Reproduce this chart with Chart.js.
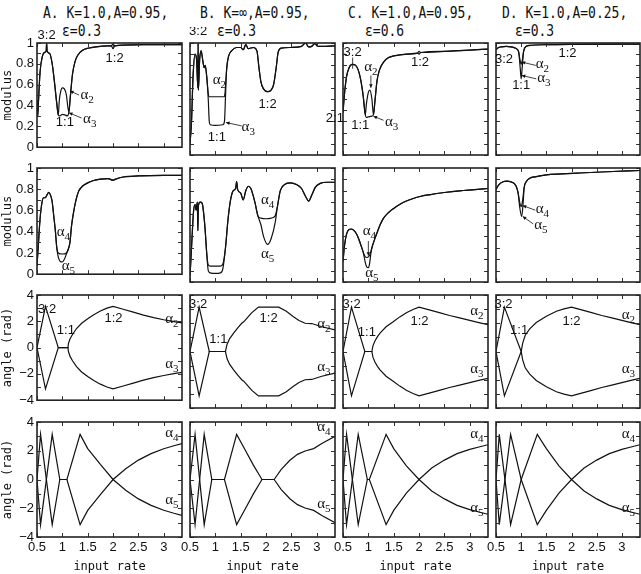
<!DOCTYPE html>
<html>
<head>
<meta charset="utf-8">
<script src="https://cdn.jsdelivr.net/npm/chart.js@4"></script>
<style>
  body { margin: 0; background: #fff; width: 641px; height: 574px; overflow: hidden; position: relative; }
  canvas { position: absolute; }
  .ttl { position: absolute; font: 13px 'DejaVu Sans Mono', monospace; line-height: 13px; white-space: pre;
         color: #111; transform-origin: left center; transform: scaleY(1.25); }
</style>
</head>
<body>
<div class="ttl" style="left:43px;top:6px">A. K=1.0,A=0.95,</div>
<div class="ttl" style="left:62px;top:24px">ε=0.3</div>
<div class="ttl" style="left:200px;top:6px">B. K=∞,A=0.95,</div>
<div class="ttl" style="left:217px;top:24px">ε=0.3</div>
<div class="ttl" style="left:348px;top:6px">C. K=1.0,A=0.95,</div>
<div class="ttl" style="left:365px;top:24px">ε=0.6</div>
<div class="ttl" style="left:502px;top:6px">D. K=1.0,A=0.25,</div>
<div class="ttl" style="left:515px;top:24px">ε=0.3</div>
<script>
// ---- ticks ----
const xTicks = [0.5, 1, 1.5, 2, 2.5, 3];
const modTicks = [0, 0.1, 0.2, 0.3, 0.4, 0.5, 0.6, 0.7, 0.8, 0.9, 1];
const angTicks = [-4, -3, -2, -1, 0, 1, 2, 3, 4];

// ---- row 1: modulus of alpha2 / alpha3 ----
const r1A_a2 = [[0.5,0.45],[0.515,0.3],[0.53,0.45],[0.56,0.72],[0.6,0.86],[0.65,0.91],[0.68,0.92],[0.69,1.0],[0.7,0.92],[0.75,0.9],[0.8,0.8],[0.85,0.6],[0.89,0.42],[0.92,0.31],[0.94,0.45],[0.97,0.54],[1.0,0.57],[1.04,0.56],[1.08,0.5],[1.11,0.38],[1.13,0.34],[1.16,0.5],[1.2,0.7],[1.25,0.82],[1.3,0.88],[1.4,0.93],[1.5,0.95],[1.7,0.965],[1.9,0.972],[1.97,0.975],[2.0,0.99],[2.03,0.975],[2.2,0.98],[2.6,0.985],[3.36,0.985]];
const r1A_a3 = [[0.5,0.45],[0.515,0.3],[0.53,0.45],[0.56,0.72],[0.6,0.86],[0.65,0.91],[0.68,0.92],[0.69,1.0],[0.7,0.92],[0.75,0.9],[0.8,0.8],[0.85,0.6],[0.89,0.42],[0.92,0.31],[0.95,0.3],[1.0,0.315],[1.05,0.31],[1.1,0.3],[1.13,0.34],[1.16,0.5],[1.2,0.7],[1.25,0.82],[1.3,0.88],[1.4,0.93],[1.5,0.95],[1.7,0.965],[1.9,0.972],[1.97,0.97],[2.0,0.945],[2.03,0.97],[2.2,0.98],[2.6,0.985],[3.36,0.985]];

const r1B_a2 = [[0.5,0.1],[0.53,0.3],[0.56,0.7],[0.6,0.9],[0.63,0.85],[0.655,0.6],[0.66,1.0],[0.665,0.58],[0.69,0.85],[0.72,0.93],[0.75,0.85],[0.78,0.78],[0.8,0.8],[0.83,0.7],[0.86,0.55],[0.88,0.52],[1.0,0.52],[1.17,0.52],[1.19,0.55],[1.22,0.75],[1.26,0.88],[1.32,0.93],[1.42,0.96],[1.5,0.96],[1.55,0.94],[1.6,0.985],[1.65,0.95],[1.75,0.96],[1.82,0.93],[1.86,0.78],[1.9,0.65],[1.95,0.59],[2.03,0.565],[2.1,0.58],[2.15,0.63],[2.2,0.78],[2.24,0.92],[2.3,0.955],[2.5,0.96],[2.7,0.97],[2.78,1.0],[2.84,0.965],[2.9,0.97],[2.96,0.995],[3.02,0.97],[3.36,0.975]];
const r1B_a3 = [[0.5,0.1],[0.53,0.3],[0.56,0.7],[0.6,0.9],[0.63,0.85],[0.655,0.6],[0.66,1.0],[0.665,0.58],[0.69,0.85],[0.72,0.93],[0.75,0.85],[0.78,0.78],[0.8,0.8],[0.83,0.7],[0.86,0.5],[0.88,0.3],[0.9,0.27],[1.0,0.265],[1.15,0.27],[1.18,0.3],[1.2,0.52],[1.22,0.75],[1.26,0.88],[1.32,0.93],[1.42,0.96],[1.5,0.96],[1.55,0.94],[1.6,0.985],[1.65,0.95],[1.75,0.96],[1.82,0.93],[1.86,0.78],[1.9,0.65],[1.95,0.59],[2.03,0.565],[2.1,0.58],[2.15,0.63],[2.2,0.78],[2.24,0.92],[2.3,0.955],[2.5,0.96],[2.7,0.97],[2.78,1.0],[2.84,0.965],[2.9,0.97],[2.96,0.995],[3.02,0.97],[3.36,0.975]];

const r1C_a2 = [[0.5,0.38],[0.53,0.55],[0.57,0.7],[0.62,0.78],[0.68,0.81],[0.75,0.8],[0.8,0.76],[0.85,0.67],[0.9,0.52],[0.94,0.36],[0.96,0.45],[1.0,0.56],[1.03,0.58],[1.07,0.5],[1.1,0.36],[1.13,0.48],[1.17,0.66],[1.22,0.76],[1.3,0.83],[1.4,0.87],[1.5,0.885],[1.75,0.9],[1.97,0.91],[2.0,0.925],[2.03,0.915],[2.5,0.925],[3.0,0.937],[3.36,0.945]];
const r1C_a3 = [[0.5,0.38],[0.53,0.55],[0.57,0.7],[0.62,0.78],[0.68,0.81],[0.75,0.8],[0.8,0.76],[0.85,0.67],[0.9,0.52],[0.94,0.36],[0.96,0.335],[1.0,0.34],[1.05,0.345],[1.1,0.36],[1.13,0.48],[1.17,0.66],[1.22,0.76],[1.3,0.83],[1.4,0.87],[1.5,0.885],[1.75,0.9],[1.97,0.91],[2.0,0.9],[2.03,0.915],[2.5,0.925],[3.0,0.937],[3.36,0.945]];

const r1D_a2 = [[0.5,0.94],[0.55,0.96],[0.6,0.965],[0.7,0.97],[0.8,0.965],[0.9,0.95],[0.95,0.92],[0.98,0.84],[1.0,0.81],[1.02,0.84],[1.05,0.93],[1.1,0.97],[1.2,0.98],[1.5,0.985],[2.0,0.988],[3.36,0.99]];
const r1D_a3 = [[0.5,0.94],[0.55,0.96],[0.6,0.965],[0.7,0.97],[0.8,0.965],[0.9,0.95],[0.95,0.92],[0.98,0.78],[1.0,0.68],[1.02,0.78],[1.05,0.93],[1.1,0.97],[1.2,0.98],[1.5,0.985],[2.0,0.988],[3.36,0.99]];

// ---- row 2: modulus of alpha4 / alpha5 ----
const r2A_a4 = [[0.5,0.08],[0.53,0.3],[0.56,0.52],[0.6,0.68],[0.63,0.72],[0.66,0.72],[0.7,0.75],[0.73,0.77],[0.77,0.74],[0.8,0.68],[0.83,0.55],[0.86,0.42],[0.89,0.25],[0.92,0.2],[1.0,0.19],[1.08,0.2],[1.12,0.24],[1.15,0.3],[1.18,0.45],[1.22,0.58],[1.27,0.7],[1.32,0.78],[1.4,0.83],[1.5,0.86],[1.6,0.88],[1.75,0.895],[1.9,0.9],[2.0,0.885],[2.05,0.895],[2.2,0.915],[2.5,0.925],[3.0,0.93],[3.36,0.93]];
const r2A_a5 = [[0.5,0.08],[0.53,0.3],[0.56,0.52],[0.6,0.68],[0.63,0.72],[0.66,0.72],[0.7,0.75],[0.73,0.77],[0.77,0.74],[0.8,0.68],[0.83,0.55],[0.86,0.42],[0.89,0.25],[0.92,0.16],[0.96,0.12],[1.0,0.115],[1.04,0.14],[1.08,0.19],[1.12,0.24],[1.15,0.3],[1.18,0.45],[1.22,0.58],[1.27,0.7],[1.32,0.78],[1.4,0.83],[1.5,0.86],[1.6,0.88],[1.75,0.895],[1.9,0.9],[2.0,0.885],[2.05,0.895],[2.2,0.915],[2.5,0.925],[3.0,0.93],[3.36,0.93]];

const r2B_a4 = [[0.5,0.05],[0.53,0.3],[0.57,0.62],[0.6,0.68],[0.62,0.63],[0.645,0.7],[0.655,0.45],[0.665,0.67],[0.7,0.7],[0.74,0.69],[0.77,0.6],[0.8,0.45],[0.83,0.25],[0.86,0.15],[0.9,0.14],[1.0,0.14],[1.1,0.14],[1.15,0.16],[1.2,0.3],[1.25,0.55],[1.3,0.72],[1.35,0.8],[1.4,0.82],[1.42,0.88],[1.44,0.81],[1.5,0.78],[1.55,0.72],[1.6,0.8],[1.65,0.84],[1.7,0.82],[1.78,0.7],[1.84,0.58],[1.9,0.56],[2.0,0.555],[2.1,0.56],[2.18,0.58],[2.22,0.65],[2.28,0.8],[2.35,0.85],[2.48,0.87],[2.6,0.855],[2.7,0.82],[2.78,0.75],[2.84,0.71],[2.9,0.76],[2.97,0.83],[3.07,0.865],[3.2,0.875],[3.36,0.875]];
const r2B_a5 = [[0.5,0.05],[0.53,0.3],[0.57,0.62],[0.6,0.68],[0.62,0.63],[0.645,0.7],[0.655,0.45],[0.665,0.67],[0.7,0.7],[0.74,0.69],[0.77,0.6],[0.8,0.45],[0.83,0.25],[0.86,0.1],[0.9,0.08],[1.0,0.075],[1.1,0.08],[1.15,0.12],[1.2,0.3],[1.25,0.55],[1.3,0.72],[1.35,0.8],[1.4,0.82],[1.42,0.88],[1.44,0.81],[1.5,0.78],[1.55,0.72],[1.6,0.8],[1.65,0.84],[1.7,0.82],[1.78,0.7],[1.84,0.58],[1.9,0.5],[1.95,0.4],[2.03,0.33],[2.1,0.38],[2.18,0.52],[2.22,0.65],[2.28,0.8],[2.35,0.85],[2.48,0.87],[2.6,0.855],[2.7,0.82],[2.78,0.75],[2.84,0.71],[2.9,0.76],[2.97,0.83],[3.07,0.865],[3.2,0.875],[3.36,0.875]];

const r2C_a4 = [[0.5,0.18],[0.53,0.32],[0.57,0.42],[0.62,0.46],[0.67,0.465],[0.72,0.45],[0.78,0.41],[0.84,0.34],[0.9,0.26],[0.94,0.22],[0.97,0.215],[1.0,0.22],[1.03,0.24],[1.07,0.3],[1.12,0.37],[1.17,0.43],[1.23,0.5],[1.3,0.56],[1.4,0.61],[1.5,0.645],[1.6,0.675],[1.75,0.71],[1.9,0.735],[2.02,0.75],[2.2,0.765],[2.5,0.785],[2.8,0.8],[3.1,0.81],[3.36,0.82]];
const r2C_a5 = [[0.5,0.18],[0.53,0.32],[0.57,0.42],[0.62,0.46],[0.67,0.465],[0.72,0.45],[0.78,0.41],[0.84,0.34],[0.9,0.26],[0.94,0.17],[0.97,0.13],[1.0,0.125],[1.02,0.15],[1.05,0.25],[1.07,0.3],[1.12,0.37],[1.17,0.43],[1.23,0.5],[1.3,0.56],[1.4,0.61],[1.5,0.645],[1.6,0.675],[1.75,0.71],[1.9,0.735],[2.02,0.75],[2.2,0.765],[2.5,0.785],[2.8,0.8],[3.1,0.81],[3.36,0.82]];

const r2D_a4 = [[0.5,0.81],[0.55,0.85],[0.64,0.88],[0.72,0.885],[0.84,0.87],[0.9,0.84],[0.94,0.78],[0.97,0.7],[1.0,0.66],[1.03,0.72],[1.06,0.83],[1.1,0.88],[1.17,0.91],[1.3,0.925],[1.5,0.94],[1.8,0.948],[2.16,0.956],[2.7,0.967],[3.36,0.978]];
const r2D_a5 = [[0.5,0.81],[0.55,0.85],[0.64,0.88],[0.72,0.885],[0.84,0.87],[0.9,0.84],[0.94,0.78],[0.97,0.66],[1.01,0.575],[1.04,0.7],[1.06,0.83],[1.1,0.88],[1.17,0.91],[1.3,0.925],[1.5,0.94],[1.8,0.948],[2.16,0.956],[2.7,0.967],[3.36,0.978]];

// ---- row 3: angle of alpha2 / alpha3 ----
const r3A_a2 = [[0.5,0],[0.667,3.14],[0.92,0],[1.11,0],[1.12,0.3],[1.15,0.65],[1.2,1.0],[1.28,1.45],[1.38,1.85],[1.5,2.2],[1.62,2.5],[1.75,2.78],[1.88,3.0],[2.0,3.14],[2.2,2.92],[2.4,2.7],[2.6,2.47],[2.8,2.28],[3.0,2.12],[3.2,1.98],[3.36,1.88]];
const r3A_a3 = [[0.5,0],[0.667,-3.14],[0.92,0],[1.11,0],[1.12,-0.3],[1.15,-0.65],[1.2,-1.0],[1.28,-1.45],[1.38,-1.85],[1.5,-2.2],[1.62,-2.5],[1.75,-2.78],[1.88,-3.0],[2.0,-3.14],[2.2,-2.92],[2.4,-2.7],[2.6,-2.47],[2.8,-2.28],[3.0,-2.12],[3.2,-1.98],[3.36,-1.88]];

const r3B_a2 = [[0.5,0],[0.68,3.14],[0.88,0],[1.2,0],[1.23,0.5],[1.28,0.9],[1.36,1.3],[1.45,1.7],[1.52,2.0],[1.56,2.1],[1.62,2.35],[1.72,2.75],[1.85,3.14],[2.25,3.14],[2.4,2.85],[2.54,2.46],[2.65,2.2],[2.77,2.0],[2.9,1.98],[3.1,1.75],[3.36,1.53]];
const r3B_a3 = [[0.5,0],[0.68,-3.14],[0.88,0],[1.2,0],[1.23,-0.5],[1.28,-0.9],[1.36,-1.3],[1.45,-1.7],[1.52,-2.0],[1.56,-2.1],[1.62,-2.35],[1.72,-2.75],[1.85,-3.14],[2.25,-3.14],[2.4,-2.85],[2.54,-2.46],[2.65,-2.2],[2.77,-2.0],[2.9,-1.98],[3.1,-1.75],[3.36,-1.53]];

const r3C_a2 = [[0.5,0],[0.667,3.14],[0.93,0],[1.07,0],[1.09,0.4],[1.13,0.75],[1.18,1.05],[1.23,1.3],[1.35,1.75],[1.49,2.1],[1.62,2.45],[1.75,2.75],[1.88,2.97],[2.0,3.14],[2.2,2.95],[2.4,2.75],[2.6,2.55],[2.8,2.38],[3.0,2.2],[3.2,2.03],[3.36,1.9]];
const r3C_a3 = [[0.5,0],[0.667,-3.14],[0.93,0],[1.07,0],[1.09,-0.4],[1.13,-0.75],[1.18,-1.05],[1.23,-1.3],[1.35,-1.75],[1.49,-2.1],[1.62,-2.45],[1.75,-2.75],[1.88,-2.97],[2.0,-3.14],[2.2,-2.95],[2.4,-2.75],[2.6,-2.55],[2.8,-2.38],[3.0,-2.2],[3.2,-2.03],[3.36,-1.9]];

const r3D_a2 = [[0.5,0],[0.667,3.14],[1.0,0],[1.03,0.6],[1.08,1.15],[1.17,1.6],[1.3,2.05],[1.5,2.5],[1.7,2.85],[1.85,3.02],[2.0,3.14],[2.2,2.95],[2.4,2.75],[2.6,2.55],[2.8,2.38],[3.0,2.2],[3.2,2.03],[3.36,1.9]];
const r3D_a3 = [[0.5,0],[0.667,-3.14],[1.0,0],[1.03,-0.6],[1.08,-1.15],[1.17,-1.6],[1.3,-2.05],[1.5,-2.5],[1.7,-2.85],[1.85,-3.02],[2.0,-3.14],[2.2,-2.95],[2.4,-2.75],[2.6,-2.55],[2.8,-2.38],[3.0,-2.2],[3.2,-2.03],[3.36,-1.9]];

// ---- row 4: angle of alpha4 / alpha5 ----
const r4A_a4 = [[0.5,0],[0.57,3.14],[0.8,-3.14],[0.95,0],[1.09,0],[1.35,-3.14],[1.5,-2.15],[1.75,-1.05],[2.0,0],[2.25,0.75],[2.5,1.35],[2.75,1.8],[3.0,2.14],[3.2,2.35],[3.36,2.5]];
const r4A_a5 = [[0.5,0],[0.57,-3.14],[0.8,3.14],[0.95,0],[1.09,0],[1.35,3.14],[1.5,2.15],[1.75,1.05],[2.0,0],[2.25,-0.75],[2.5,-1.35],[2.75,-1.8],[3.0,-2.14],[3.2,-2.35],[3.36,-2.5]];

const r4B_a4 = [[0.5,0],[0.6,3.14],[0.78,-3.14],[0.93,0],[1.18,0],[1.42,-3.14],[1.57,-2.17],[1.75,-1.0],[1.92,0],[2.16,0],[2.3,0.7],[2.47,1.34],[2.62,1.75],[2.77,1.98],[2.94,2.15],[3.1,2.5],[3.36,3.0]];
const r4B_a5 = [[0.5,0],[0.6,-3.14],[0.78,3.14],[0.93,0],[1.18,0],[1.42,3.14],[1.57,2.17],[1.75,1.0],[1.92,0],[2.16,0],[2.3,-0.7],[2.47,-1.34],[2.62,-1.75],[2.77,-1.98],[2.94,-2.15],[3.1,-2.5],[3.36,-3.0]];

const r4C_a4 = [[0.5,0],[0.57,3.14],[0.8,-3.14],[0.98,0],[1.02,0],[1.35,-3.14],[1.5,-2.15],[1.75,-0.95],[2.0,0],[2.25,0.8],[2.5,1.35],[2.75,1.8],[3.0,2.1],[3.2,2.28],[3.36,2.42]];
const r4C_a5 = [[0.5,0],[0.57,-3.14],[0.8,3.14],[0.98,0],[1.02,0],[1.35,3.14],[1.5,2.15],[1.75,0.95],[2.0,0],[2.25,-0.8],[2.5,-1.35],[2.75,-1.8],[3.0,-2.1],[3.2,-2.28],[3.36,-2.42]];

const r4D_a4 = [[0.5,0],[0.565,-3.14],[0.79,3.14],[1.0,0],[1.32,-3.14],[1.5,-2.15],[1.75,-0.95],[2.0,0],[2.25,0.8],[2.5,1.35],[2.75,1.8],[3.0,2.1],[3.2,2.28],[3.36,2.42]];
const r4D_a5 = [[0.5,0],[0.565,3.14],[0.79,-3.14],[1.0,0],[1.32,3.14],[1.5,2.15],[1.75,0.95],[2.0,0],[2.25,-0.8],[2.5,-1.35],[2.75,-1.8],[3.0,-2.1],[3.2,-2.28],[3.36,-2.42]];

// ---- layout ----
const colLeft = [37, 190, 343, 496];
const colW = [145, 145, 145, 144];
const rowTop = [43, 168, 295, 422];
const rowH = [112, 114, 113, 115];

// panels: series + text notes [text, x, y] + arrows [x1, y1, x2, y2, head]
const panels = [
  {r:0, c:0, s:[r1A_a2, r1A_a3],
   notes:[['3:2',0.69,1.07],['1:2',2.03,0.85],['1:1',1.05,0.24],['α2',1.49,0.48],['α3',1.54,0.25]],
   arrows:[[1.33,0.5,1.15,0.54,1],[1.38,0.28,1.13,0.33,1]]},
  {r:0, c:1, s:[r1B_a2, r1B_a3],
   notes:[['3:2',0.66,1.1],['α2',1.08,0.65],['1:2',2.03,0.45],['1:1',1.03,0.16],['α3',1.65,0.23]],
   arrows:[[1.52,0.26,1.21,0.29,1]]},
  {r:0, c:2, s:[r1C_a2, r1C_a3],
   notes:[['3:2',0.69,0.92],['α2',1.05,0.77],['1:2',2.02,0.83],['2:1',0.34,0.33],['1:1',0.84,0.26],['α3',1.46,0.28]],
   arrows:[[0.69,0.87,0.69,0.77,0],[1.05,0.71,1.05,0.6,1],[1.3,0.31,1.1,0.345,1]]},
  {r:0, c:3, s:[r1D_a2, r1D_a3],
   notes:[['3:2',0.66,0.85],['1:2',1.92,0.91],['α2',1.42,0.79],['α3',1.45,0.67],['1:1',1.0,0.62]],
   arrows:[[1.29,0.8,1.01,0.83,1],[1.3,0.68,1.01,0.71,1]]},

  {r:1, c:0, s:[r2A_a4, r2A_a5], notes:[['α4',1.02,0.38],['α5',1.12,0.06]], arrows:[]},
  {r:1, c:1, s:[r2B_a4, r2B_a5], notes:[['α4',2.03,0.7],['α5',2.03,0.23]], arrows:[]},
  {r:1, c:2, s:[r2C_a4, r2C_a5], notes:[['α4',1.02,0.43],['α5',1.07,0.06]], arrows:[[1.0,0.36,1.0,0.23,1]]},
  {r:1, c:3, s:[r2D_a4, r2D_a5], notes:[['α4',1.42,0.62],['α5',1.39,0.48]],
   arrows:[[1.28,0.63,1.03,0.67,1],[1.24,0.51,1.03,0.575,1]]},

  {r:2, c:0, s:[r3A_a2, r3A_a3], notes:[['3:2',0.7,2.89],['1:1',1.07,1.29],['1:2',2.01,2.23],['α2',3.16,2.0],['α3',3.16,-1.42]], arrows:[]},
  {r:2, c:1, s:[r3B_a2, r3B_a3], notes:[['3:2',0.66,3.3],['1:1',1.06,0.82],['1:2',2.05,2.35],['α2',3.14,1.81],['α3',3.14,-1.25]], arrows:[]},
  {r:2, c:2, s:[r3C_a2, r3C_a3], notes:[['3:2',0.67,3.3],['1:1',0.97,1.34],['1:2',2.01,2.11],['α2',3.14,2.7],['α3',3.14,-1.42]], arrows:[]},
  {r:2, c:3, s:[r3D_a2, r3D_a3], notes:[['3:2',0.65,3.3],['1:1',0.96,1.52],['1:2',2.0,2.11],['α2',3.13,2.46],['α3',3.13,-1.42]], arrows:[]},

  {r:3, c:0, s:[r4A_a4, r4A_a5], notes:[['α4',3.16,3.07],['α5',3.16,-1.56]], arrows:[]},
  {r:3, c:1, s:[r4B_a4, r4B_a5], notes:[['α4',3.14,3.54],['α5',3.14,-1.86]], arrows:[]},
  {r:3, c:2, s:[r4C_a4, r4C_a5], notes:[['α4',3.14,3.0],['α5',3.14,-2.14]], arrows:[]},
  {r:3, c:3, s:[r4D_a4, r4D_a5], notes:[['α4',3.13,3.0],['α5',3.13,-2.14]], arrows:[]}
];

const ink = '#111';
const tickFont = {family: "'Liberation Sans', Arial, sans-serif", size: 13};
const titleFont = {family: "'DejaVu Sans Mono', monospace", size: 12};

// box + inward tick marks on all four sides
const framePlugin = {
  id: 'frame',
  afterDatasetsDraw(chart) {
    const {ctx, chartArea: a, scales: {x, y}} = chart;
    const yT = chart.options.plugins.frame.yTicks;
    ctx.save();
    ctx.strokeStyle = '#333';
    ctx.lineWidth = 1;
    ctx.beginPath();
    xTicks.forEach(v => {
      const px = Math.round(x.getPixelForValue(v)) + 0.5;
      ctx.moveTo(px, a.bottom); ctx.lineTo(px, a.bottom - 4);
      ctx.moveTo(px, a.top); ctx.lineTo(px, a.top + 4);
    });
    yT.forEach(v => {
      const py = Math.round(y.getPixelForValue(v)) + 0.5;
      ctx.moveTo(a.left, py); ctx.lineTo(a.left + 4, py);
      ctx.moveTo(a.right, py); ctx.lineTo(a.right - 4, py);
    });
    ctx.stroke();
    ctx.lineWidth = 1.6;
    ctx.strokeStyle = '#222';
    ctx.strokeRect(a.left, a.top, a.right - a.left, a.bottom - a.top);
    ctx.restore();
  }
};

// resonance labels, alpha labels and pointer arrows
const notePlugin = {
  id: 'notes',
  afterDraw(chart) {
    const {ctx, scales: {x, y}} = chart;
    const cfg = chart.options.plugins.notes;
    ctx.save();
    ctx.fillStyle = ink;
    ctx.strokeStyle = ink;
    ctx.textBaseline = 'middle';
    cfg.notes.forEach(([t, vx, vy]) => {
      const px = x.getPixelForValue(vx), py = y.getPixelForValue(vy);
      if (t[0] === 'α') {
        ctx.font = "15px 'Liberation Serif', serif";
        const w1 = ctx.measureText('α').width;
        ctx.font = "11px 'Liberation Serif', serif";
        const w2 = ctx.measureText(t.slice(1)).width;
        const x0 = px - (w1 + w2) / 2;
        ctx.textAlign = 'left';
        ctx.font = "15px 'Liberation Serif', serif";
        ctx.fillText('α', x0, py - 2);
        ctx.font = "11px 'Liberation Serif', serif";
        ctx.fillText(t.slice(1), x0 + w1, py + 3);
      } else {
        ctx.font = "13px 'Liberation Sans', Arial, sans-serif";
        ctx.textAlign = 'center';
        ctx.fillText(t, px, py);
      }
    });
    ctx.lineWidth = 0.8;
    cfg.arrows.forEach(([x1, y1, x2, y2, head]) => {
      const ax = x.getPixelForValue(x1), ay = y.getPixelForValue(y1);
      const bx = x.getPixelForValue(x2), by = y.getPixelForValue(y2);
      ctx.beginPath();
      ctx.moveTo(ax, ay); ctx.lineTo(bx, by);
      ctx.stroke();
      if (head) {
        const ang = Math.atan2(by - ay, bx - ax);
        ctx.beginPath();
        ctx.moveTo(bx, by);
        ctx.lineTo(bx - 4 * Math.cos(ang - 0.45), by - 4 * Math.sin(ang - 0.45));
        ctx.lineTo(bx - 4 * Math.cos(ang + 0.45), by - 4 * Math.sin(ang + 0.45));
        ctx.closePath();
        ctx.fill();
      }
    });
    ctx.restore();
  }
};

function modLabel(v) {
  const r = Math.round(v * 10);
  if (r % 2) return '';
  return r === 0 ? '0' : r === 10 ? '1' : (r / 10).toFixed(1);
}
function angLabel(v) {
  if (v % 2) return '';
  return v < 0 ? '\u2212' + (-v) : String(v);
}

panels.forEach(p => {
  const isMod = p.r < 2;
  const padL = p.c === 0 ? 0 : 18, padR = 3, padT = 16, padB = p.r === 3 ? 0 : 3;
  const yW = p.c === 0 ? 37 : 0;
  const xH = p.r === 3 ? 37 : 0;
  const W = colW[p.c], H = rowH[p.r];
  const cv = document.createElement('canvas');
  cv.width = W + padL + yW + padR;
  cv.height = H + padT + padB + xH;
  cv.style.left = (colLeft[p.c] - padL - yW) + 'px';
  cv.style.top = (rowTop[p.r] - padT) + 'px';
  document.body.appendChild(cv);

  const yT = isMod ? modTicks : angTicks;
  new Chart(cv, {
    type: 'scatter',
    data: {
      datasets: p.s.map(arr => ({
        data: arr.map(([x, y]) => ({x, y})),
        showLine: true,
        borderColor: ink,
        borderWidth: 1.2,
        pointRadius: 0,
        tension: 0,
        cubicInterpolationMode: isMod ? 'monotone' : 'default'
      }))
    },
    options: {
      responsive: false,
      animation: false,
      events: [],
      layout: {padding: {left: padL, top: padT, right: padR, bottom: padB}},
      plugins: {
        legend: {display: false},
        tooltip: {enabled: false},
        frame: {yTicks: yT},
        notes: {notes: p.notes, arrows: p.arrows}
      },
      scales: {
        x: {
          type: 'linear', min: 0.5, max: 3.36,
          display: p.r === 3,
          grid: {display: false, drawTicks: false},
          border: {display: false},
          afterBuildTicks: s => { s.ticks = xTicks.map(v => ({value: v})); },
          afterFit: s => { s.height = xH; },
          ticks: {font: tickFont, color: ink, padding: 3, autoSkip: false, maxRotation: 0,
                  callback: v => String(v)},
          title: {display: true, text: 'input rate', font: titleFont, color: ink, padding: {top: 0, bottom: 0}}
        },
        y: {
          type: 'linear',
          min: isMod ? 0 : -4, max: isMod ? 1 : 4,
          display: p.c === 0,
          grid: {display: false, drawTicks: false},
          border: {display: false},
          afterBuildTicks: s => { s.ticks = yT.map(v => ({value: v})); },
          afterFit: s => { s.width = yW; },
          ticks: {font: tickFont, color: ink, padding: 3, autoSkip: false,
                  callback: isMod ? modLabel : angLabel},
          title: {display: true, text: isMod ? 'modulus' : 'angle (rad)', font: titleFont, color: ink,
                  padding: {top: 1, bottom: 0}}
        }
      }
    },
    plugins: [framePlugin, notePlugin]
  });
});
</script>
</body>
</html>
